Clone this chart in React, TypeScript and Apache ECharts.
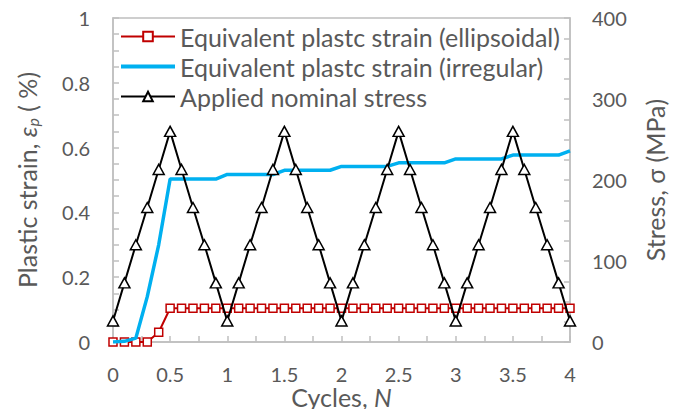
import React, { useEffect, useRef } from "react";
import * as echarts from "echarts";

const cycles = [
  0, 0.1, 0.2, 0.3, 0.4, 0.5, 0.6, 0.7, 0.8, 0.9,
  1, 1.1, 1.2, 1.3, 1.4, 1.5, 1.6, 1.7, 1.8, 1.9,
  2, 2.1, 2.2, 2.3, 2.4, 2.5, 2.6, 2.7, 2.8, 2.9,
  3, 3.1, 3.2, 3.3, 3.4, 3.5, 3.6, 3.7, 3.8, 3.9,
  4,
];

const strainEllipsoidal = [
  0, 0, 0, 0, 0.03, 0.104, 0.104, 0.104, 0.104, 0.104,
  0.104, 0.104, 0.104, 0.104, 0.104, 0.104, 0.104, 0.104, 0.104, 0.104,
  0.104, 0.104, 0.104, 0.104, 0.104, 0.104, 0.104, 0.104, 0.104, 0.104,
  0.104, 0.104, 0.104, 0.104, 0.104, 0.104, 0.104, 0.104, 0.104, 0.104,
  0.104,
];

const strainIrregular = [
  0, 0.002, 0.012, 0.14, 0.3, 0.503, 0.503, 0.503, 0.503, 0.503,
  0.517, 0.517, 0.517, 0.517, 0.517, 0.53, 0.53, 0.53, 0.53, 0.53,
  0.542, 0.542, 0.542, 0.542, 0.542, 0.553, 0.553, 0.553, 0.553, 0.553,
  0.565, 0.565, 0.565, 0.565, 0.565, 0.577, 0.577, 0.577, 0.577, 0.577,
  0.59,
];

const stress = [
  26, 73, 120, 166, 213, 260, 213, 166, 120, 73,
  26, 73, 120, 166, 213, 260, 213, 166, 120, 73,
  26, 73, 120, 166, 213, 260, 213, 166, 120, 73,
  26, 73, 120, 166, 213, 260, 213, 166, 120, 73,
  26,
];

const seriesNames = [
  "Equivalent plastc strain (ellipsoidal)",
  "Equivalent plastc strain (irregular)",
  "Applied nominal stress",
];

const FONT = "Lato";
const TEXT = "#595959";
const AXIS = "#bfbfbf";

export default function App() {
  const ref = useRef<HTMLDivElement>(null);
  useEffect(() => {
    document.body.style.margin = "0";
    const chart = echarts.init(ref.current!, null, { renderer: "svg" });
    const pair = (ys: number[]) => cycles.map((c, i) => [c, ys[i]]);
    const axisCommon = {
      axisLine: { show: true, lineStyle: { color: AXIS, width: 1.5 } },
      axisTick: { show: true, inside: true, length: 6, lineStyle: { color: AXIS, width: 1.5 } },
      minorTick: { show: true, length: 6, lineStyle: { color: AXIS, width: 1.5 } },
      splitLine: { show: false },
      axisLabel: { color: TEXT, fontSize: 20, fontFamily: FONT },
      nameMoveOverlap: false,
    };
    chart.setOption({
      animation: false,
      backgroundColor: "#ffffff",
      textStyle: { fontFamily: FONT },
      grid: {
        left: 113, right: 117, top: 18, bottom: 67,
        containLabel: false,
        outerBoundsMode: "none",
        show: true, borderColor: AXIS, borderWidth: 1.5,
      },
      legend: {
        orient: "vertical",
        left: 114,
        top: 19,
        itemWidth: 54,
        itemHeight: 12,
        itemGap: 5,
        data: [
          { name: seriesNames[0] },
          { name: seriesNames[1], itemStyle: { opacity: 0 }, lineStyle: { width: 4 } },
          { name: seriesNames[2] },
        ],
        textStyle: { color: TEXT, fontSize: 25, fontFamily: FONT },
      },
      xAxis: {
        type: "value",
        min: 0,
        max: 4,
        interval: 0.5,
        ...axisCommon,
        minorTick: { ...axisCommon.minorTick, splitNumber: 2 },
        axisLabel: { ...axisCommon.axisLabel, margin: 22 },
        name: "Cycles, {i|N}",
        nameLocation: "middle",
        nameGap: 46,
        nameTextStyle: {
          color: TEXT, fontSize: 25, fontFamily: FONT, lineHeight: 18,
          rich: { i: { fontStyle: "italic", fontSize: 25, lineHeight: 18, color: TEXT, fontFamily: FONT } },
        },
      },
      yAxis: [
        {
          type: "value",
          min: 0,
          max: 1,
          interval: 0.2,
          position: "left",
          ...axisCommon,
          minorTick: { ...axisCommon.minorTick, splitNumber: 4 },
          axisLabel: { ...axisCommon.axisLabel, margin: 23 },
          name: "Plastic strain, {i|ε}{s|p} ( %)",
          nameLocation: "middle",
          nameGap: 73,
          nameTextStyle: {
            color: TEXT, fontSize: 25, fontFamily: FONT,
            rich: {
              i: { fontStyle: "italic", fontSize: 25, color: TEXT, fontFamily: FONT },
              s: { fontStyle: "italic", fontSize: 16, color: TEXT, fontFamily: FONT, padding: [11, 0, 0, 0] },
            },
          },
        },
        {
          type: "value",
          min: 0,
          max: 400,
          interval: 100,
          position: "right",
          ...axisCommon,
          minorTick: { ...axisCommon.minorTick, splitNumber: 4 },
          axisLabel: { ...axisCommon.axisLabel, margin: 22 },
          name: "Stress, σ (MPa)",
          nameLocation: "middle",
          nameGap: 72,
          nameTextStyle: { color: TEXT, fontSize: 25, fontFamily: FONT },
        },
      ],
      series: [
        {
          name: seriesNames[0],
          type: "line",
          yAxisIndex: 0,
          data: pair(strainEllipsoidal),
          symbol: "rect",
          symbolSize: 8,
          lineStyle: { color: "#c00000", width: 2 },
          itemStyle: { color: "#ffffff", borderColor: "#c00000", borderWidth: 1.5 },
          z: 2,
        },
        {
          name: seriesNames[1],
          type: "line",
          yAxisIndex: 0,
          data: pair(strainIrregular),
          showSymbol: false,
          symbol: "none",
          lineStyle: { color: "#00b0f0", width: 3.5 },
          itemStyle: { color: "#00b0f0" },
          z: 3,
        },
        {
          name: seriesNames[2],
          type: "line",
          yAxisIndex: 1,
          data: pair(stress),
          symbol: "triangle",
          symbolSize: [11, 10],
          lineStyle: { color: "#000000", width: 2 },
          itemStyle: { color: "#ffffff", borderColor: "#000000", borderWidth: 1.5 },
          z: 4,
        },
      ],
    });
    return () => chart.dispose();
  }, []);
  return <div ref={ref} style={{ width: 687, height: 409 }} />;
}
